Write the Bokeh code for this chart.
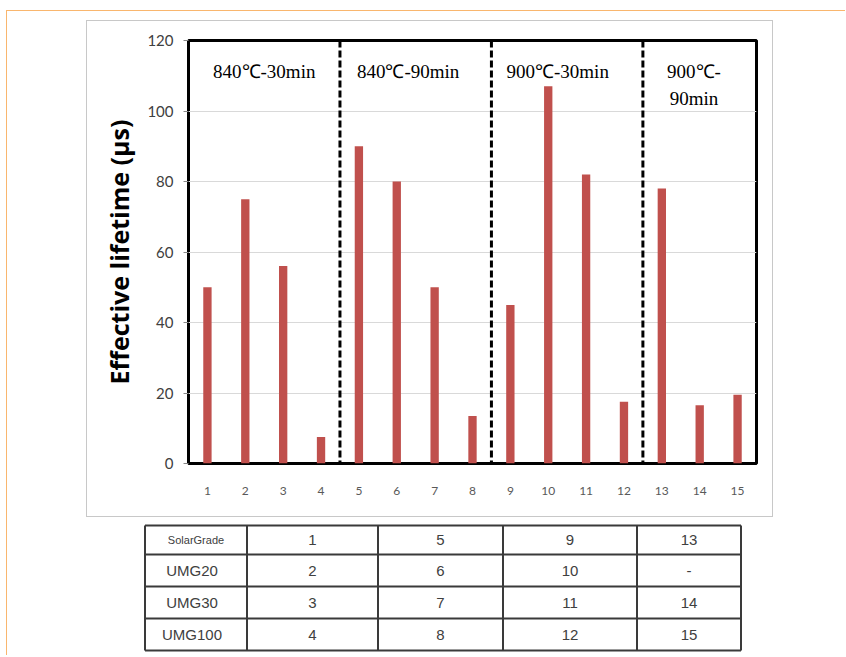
from bokeh.plotting import figure
from bokeh.models import Range1d, FixedTicker, Span, ColumnDataSource
from bokeh.layouts import column
from bokeh.core.properties import value
from bokeh.embed import file_html
from bokeh.resources import INLINE

# ---------------- data ----------------
samples = list(range(1, 16))
lifetime = [50, 75, 56, 7.5, 90, 80, 50, 13.5, 45, 107, 82, 17.5, 78, 16.5, 19.5]
y_ticks = [0, 20, 40, 60, 80, 100, 120]
group_bounds = [4.5, 8.5, 12.5]
group_labels = ["840\u2103-30min", "840\u2103-90min", "900\u2103-30min", "900\u2103-", "90min"]

row_labels = ["SolarGrade", "UMG20", "UMG30", "UMG100"]
col_840_30 = ["1", "2", "3", "4"]
col_840_90 = ["5", "6", "7", "8"]
col_900_30 = ["9", "10", "11", "12"]
col_900_90 = ["13", "-", "14", "15"]

ORANGE = "#f9b66e"
FONT = "Lato"

# ---------------- chart ----------------
p = figure(width=687, height=497, x_range=Range1d(0.5, 15.5), y_range=Range1d(0, 120),
           output_backend="svg", toolbar_location=None,
           min_border_left=101, min_border_right=18, min_border_top=19, min_border_bottom=55,
           margin=(9, 0, 0, 79),
           styles={"border": "1.5px solid #c8c8c8"})
p.frame_align = False
p.background_fill_color = "white"
p.border_fill_color = "white"
p.outline_line_color = "black"
p.outline_line_width = 3

src = ColumnDataSource(dict(x=samples, top=lifetime))
p.vbar(x="x", top="top", width=0.22, source=src, fill_color="#C0504D", line_color=None)

p.xgrid.visible = False
p.ygrid.grid_line_color = "#d9d9d9"
p.ygrid.grid_line_width = 1.2

p.xaxis.ticker = FixedTicker(ticks=samples)
p.xaxis.axis_line_color = None
p.xaxis.major_tick_line_color = None
p.xaxis.minor_tick_line_color = None
p.xaxis.major_label_standoff = 17
p.xaxis.major_label_text_font = FONT
p.xaxis.major_label_text_font_size = "12px"
p.xaxis.major_label_text_color = "#595959"

p.yaxis.ticker = FixedTicker(ticks=y_ticks)
p.yaxis.axis_line_color = None
p.yaxis.major_tick_in = 0
p.yaxis.major_tick_out = 5
p.yaxis.major_tick_line_color = "#868686"
p.yaxis.minor_tick_line_color = None
p.yaxis.major_label_standoff = 10
p.yaxis.major_label_text_font = FONT
p.yaxis.major_label_text_font_size = "15px"
p.yaxis.major_label_text_color = "#404040"
p.yaxis.axis_label = "Effective lifetime (\u03bcs)"
p.yaxis.axis_label_text_font = "Open Sans"
p.yaxis.axis_label_text_font_style = "bold"
p.yaxis.axis_label_text_font_size = "25px"
p.yaxis.axis_label_text_color = "black"
p.yaxis.axis_label_standoff = 8

for b in group_bounds:
    p.add_layout(Span(location=b, dimension="height", line_color="black",
                      line_width=3, line_dash="7 3"))

lab_x = [2.5, 6.3, 10.25, 13.85, 13.85]
lab_y = [111.2, 111.2, 111.2, 111.2, 103.5]
p.text(x=lab_x, y=lab_y, text=group_labels, text_align="center", text_baseline="middle",
       text_font=value("Liberation Serif"), text_font_size="19px", text_color="black")

# ---------------- table ----------------
T_LEFT, T_TOP, T_W, T_H = 7.5, 519, 838, 138
t = figure(width=T_W, height=T_H, x_range=Range1d(T_LEFT, T_LEFT + T_W),
           y_range=Range1d(T_TOP + T_H, T_TOP),
           output_backend="svg", toolbar_location=None, min_border=0)
t.frame_align = False
t.axis.visible = False
t.grid.visible = False
t.outline_line_color = None
t.background_fill_color = "white"
t.border_fill_color = "white"

col_edges = [145, 247, 378, 503, 637, 741]
row_edges = [527, 556, 588, 620, 652]

t.segment(x0=col_edges, y0=[row_edges[0]] * len(col_edges), x1=col_edges,
          y1=[row_edges[-1]] * len(col_edges), line_color="#3a3a3a", line_width=2)
t.segment(x0=[col_edges[0]] * len(row_edges), y0=row_edges, x1=[col_edges[-1]] * len(row_edges),
          y1=row_edges, line_color="#3a3a3a", line_width=2)

cx = [(col_edges[i] + col_edges[i + 1]) / 2 for i in range(5)]
cy = [(row_edges[i] + row_edges[i + 1]) / 2 for i in range(4)]
columns = [col_840_30, col_840_90, col_900_30, col_900_90]
xs, ys, txt = [], [], []
for ci, col in enumerate(columns):
    for ri, v in enumerate(col):
        xs.append(cx[ci + 1]); ys.append(cy[ri]); txt.append(v)
t.text(x=xs, y=ys, text=txt, text_align="center", text_baseline="middle",
       text_font=value("Liberation Sans"), text_font_size="15px", text_color="#404040")
t.text(x=[cx[0] - 4] * 3, y=cy[1:], text=row_labels[1:], text_align="center", text_baseline="middle",
       text_font=value("Liberation Sans"), text_font_size="15px", text_color="#404040")
t.text(x=[cx[0]], y=[cy[0]], text=row_labels[:1], text_align="center", text_baseline="middle",
       text_font=value("Liberation Sans"), text_font_size="11px", text_color="#404040")

layout = column(p, t, spacing=0, margin=(10, 0, 0, 6),
                styles={"border-top": "1.5px solid " + ORANGE, "border-left": "1.5px solid " + ORANGE})
open("out.html", "w").write(file_html(layout, INLINE))
